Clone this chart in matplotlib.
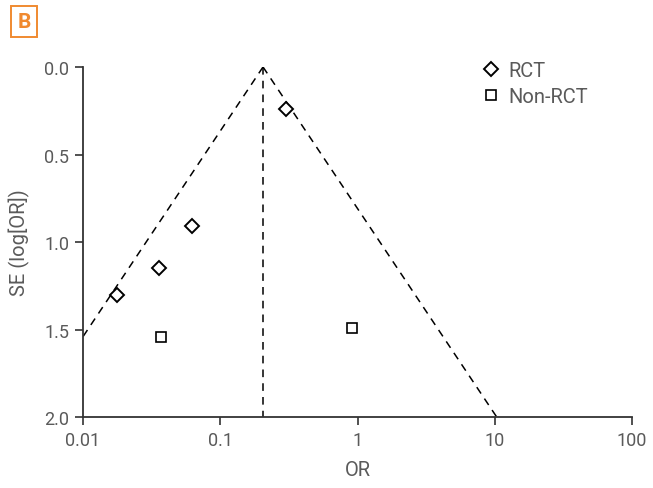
import matplotlib
matplotlib.use('Agg')
import matplotlib.pyplot as plt
import numpy as np

# Funnel plot data (OR, SE of log OR)
rct_or = [0.30, 0.062, 0.0356, 0.0177]
rct_se = [0.24, 0.91, 1.15, 1.30]
nonrct_or = [0.037, 0.91]
nonrct_se = [1.54, 1.49]
pooled_or = 0.205
xticks = [0.01, 0.1, 1, 10, 100]
xtick_labels = ["0.01", "0.1", "1", "10", "100"]
yticks = [0.0, 0.5, 1.0, 1.5, 2.0]

plt.rcParams['font.family'] = ['Roboto', 'DejaVu Sans']
txt = "#5a5a5a"

fig = plt.figure(figsize=(6.53, 4.89), dpi=100)
ax = fig.add_axes([0.127, 0.145, 0.841, 0.716])

# funnel (95% pseudo CI)
se_line = np.array([0.0, 2.0])
lo = np.exp(np.log(pooled_or) - 1.96 * se_line)
hi = np.exp(np.log(pooled_or) + 1.96 * se_line)
ax.plot(lo, se_line, color="black", linestyle=(0, (5, 4)), linewidth=1.1)
ax.plot(hi, se_line, color="black", linestyle=(0, (5, 4)), linewidth=1.1)
ax.plot([pooled_or, pooled_or], [0, 2.0], color="black", linestyle=(0, (5, 4)), linewidth=1.1)

ax.plot(rct_or, rct_se, linestyle="none", marker="D", markersize=7.5,
        markerfacecolor="white", markeredgecolor="black", markeredgewidth=1.4, label="RCT")
ax.plot(nonrct_or, nonrct_se, linestyle="none", marker="s", markersize=6.5,
        markerfacecolor="white", markeredgecolor="black", markeredgewidth=1.2, label="Non-RCT")

ax.set_xscale("log")
ax.set_xlim(0.01, 100)
ax.set_ylim(2.0, 0.0)
ax.set_xticks(xticks)
ax.set_xticklabels(xtick_labels)
ax.minorticks_off()
ax.set_yticks(yticks)
ax.set_yticklabels([f"{v:.1f}" for v in yticks])

for s in ["top", "right"]:
    ax.spines[s].set_visible(False)
for s in ["left", "bottom"]:
    ax.spines[s].set_color("#333333")
    ax.spines[s].set_linewidth(1.3)
ax.tick_params(axis="both", direction="out", length=6, width=1.2, color="#333333",
               labelsize=13, labelcolor=txt, pad=4)

ax.set_xlabel("OR", fontsize=14.5, color=txt, labelpad=8)
ax.set_ylabel("SE (log[OR])", fontsize=14.5, color=txt, labelpad=10)

leg = ax.legend(loc="upper left", bbox_to_anchor=(0.69, 1.07), frameon=False,
                fontsize=14.5, handletextpad=0.3, labelspacing=0.35, handlelength=1.1)
for t in leg.get_texts():
    t.set_color(txt)

fig.text(0.037, 0.954, "B", fontsize=15, fontweight="bold", color="#f08a30",
         ha="center", va="center",
         bbox=dict(boxstyle="square,pad=0.3", facecolor="white", edgecolor="#f08a30", linewidth=1.4))

plt.savefig("out.png", dpi=100)
plt.close()
